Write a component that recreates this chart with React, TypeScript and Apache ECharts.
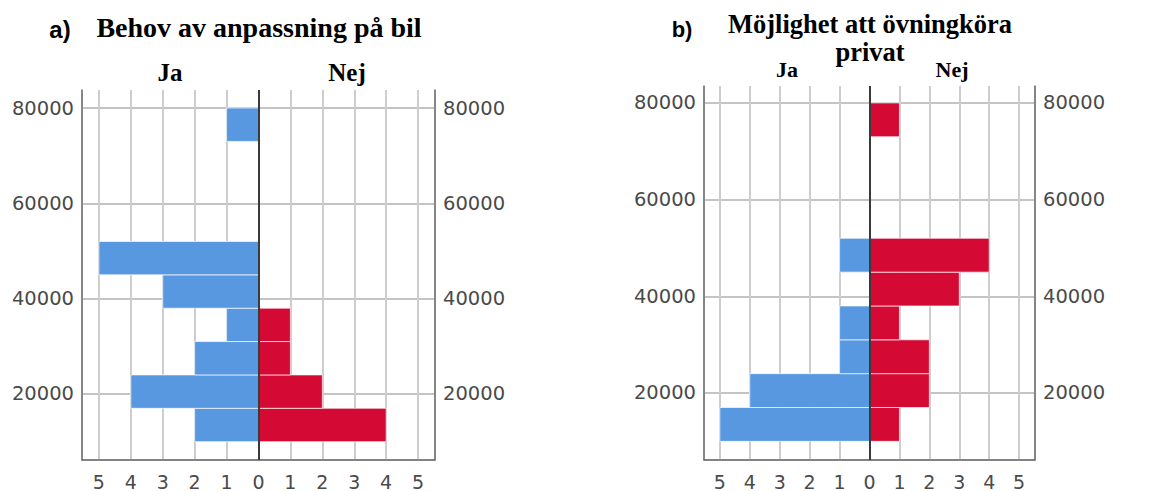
import React, { useEffect, useRef } from "react";
import * as echarts from "echarts";

// Bin edges (income) shared by both panels, bottom to top
const binEdges = [10000, 17000, 24000, 31000, 38000, 45000, 52000, 59000, 66000, 73000, 80000];

// Panel a) Behov av anpassning på bil — counts per bin, bottom to top
const aJa = [2, 4, 2, 1, 3, 5, 0, 0, 0, 1];
const aNej = [4, 2, 1, 1, 0, 0, 0, 0, 0, 0];

// Panel b) Möjlighet att övningköra privat
const bJa = [5, 4, 1, 1, 0, 1, 0, 0, 0, 0];
const bNej = [1, 2, 2, 1, 3, 4, 0, 0, 0, 1];

const titleA = "Behov av anpassning på bil";
const titleB1 = "Möjlighet att övningköra";
const titleB2 = "privat";
const groupLabels = ["Ja", "Nej"];

const BLUE = "#5898e0";
const RED = "#d40a35";

function buildData(ja: number[], nej: number[]) {
  const out: any[] = [];
  for (let i = 0; i < ja.length; i++) {
    if (ja[i] > 0) out.push({ value: [binEdges[i], binEdges[i + 1], -ja[i], 0], itemStyle: { color: BLUE } });
    if (nej[i] > 0) out.push({ value: [binEdges[i], binEdges[i + 1], 0, nej[i]], itemStyle: { color: RED } });
  }
  return out;
}

const renderItem = (params: any, api: any) => {
  const lo = api.value(0);
  const hi = api.value(1);
  const x0 = api.value(2);
  const x1 = api.value(3);
  const p0 = api.coord([x0, hi]);
  const p1 = api.coord([x1, lo]);
  return {
    type: "rect",
    shape: { x: p0[0], y: p0[1], width: p1[0] - p0[0], height: p1[1] - p0[1] },
    style: { fill: api.visual("color"), stroke: "rgba(255,255,255,0.65)", lineWidth: 1 },
  };
};

const xLabelFmt = (v: number) => (Math.abs(v - Math.round(v)) < 1e-6 ? String(Math.abs(Math.round(v))) : "");
const yLabelFmt = (v: number) => (Math.abs(v % 20000) < 1e-6 ? String(v) : "");

function makeX(gridIndex: number) {
  return {
    type: "value",
    gridIndex,
    min: -5.53,
    max: 5.53,
    minInterval: 1,
    maxInterval: 1,
    splitNumber: 11,
    axisLine: { show: true, lineStyle: { color: "#6e6e6e", width: 1.5 } },
    axisTick: { show: false },
    axisLabel: {
      formatter: xLabelFmt,
      color: "#4a4a4a",
      fontFamily: "DejaVu Sans",
      fontSize: 19,
      margin: 12,
    },
    splitLine: { show: true, lineStyle: { color: "#cdcdcd", width: 2 } },
  };
}

function makeY(gridIndex: number, min: number, max: number, position: "left" | "right") {
  return {
    type: "value",
    gridIndex,
    position,
    min,
    max,
    minInterval: 20000,
    maxInterval: 20000,
    axisLine: { show: true, onZero: false, lineStyle: { color: "#6e6e6e", width: 1.5 } },
    axisTick: { show: false },
    axisLabel: {
      formatter: yLabelFmt,
      color: "#4a4a4a",
      fontFamily: "DejaVu Sans",
      fontSize: 19.5,
      margin: 8,
    },
    splitLine: {
      show: position === "left",
      showMaxLine: false,
      lineStyle: { color: "#c4c4c4", width: 2 },
    },
  };
}

const zeroLine = {
  silent: true,
  symbol: "none",
  label: { show: false },
  lineStyle: { color: "#3a3a3a", width: 2, type: "solid" },
  data: [{ xAxis: 0 }],
};

export default function App() {
  const ref = useRef<HTMLDivElement>(null);
  useEffect(() => {
    if (!ref.current) return;
    const chart = echarts.init(ref.current, undefined, { renderer: "svg" });
    const serif = "Liberation Serif";
    const bold = (size: number, family: string) => ({ fontFamily: family, fontWeight: "bold", fontSize: size, fill: "#000" });
    const txt = (x: number, y: number, text: string, style: any) => ({
      type: "text",
      x,
      y,
      style: { ...style, text, textAlign: "center", textVerticalAlign: "middle" },
    });
    chart.setOption({
      animation: false,
      backgroundColor: "#ffffff",
      grid: [
        { left: 82, top: 90, width: 353, height: 370 },
        { left: 704, top: 86, width: 331, height: 374 },
      ],
      xAxis: [makeX(0), makeX(1)],
      yAxis: [
        makeY(0, 6150, 83780, "left"),
        makeY(0, 6150, 83780, "right"),
        makeY(1, 6140, 83500, "left"),
        makeY(1, 6140, 83500, "right"),
      ],
      series: [
        {
          type: "custom",
          xAxisIndex: 0,
          yAxisIndex: 0,
          renderItem,
          encode: { x: [2, 3], y: [0, 1] },
          data: buildData(aJa, aNej),
          markLine: zeroLine,
        },
        {
          type: "custom",
          xAxisIndex: 1,
          yAxisIndex: 2,
          renderItem,
          encode: { x: [2, 3], y: [0, 1] },
          data: buildData(bJa, bNej),
          markLine: zeroLine,
        },
      ],
      graphic: [
        txt(60, 29, "a)", bold(24, "Liberation Sans")),
        txt(259, 27, titleA, bold(28, serif)),
        txt(170, 72, groupLabels[0], bold(25, serif)),
        txt(347, 72, groupLabels[1], bold(25, serif)),
        txt(682, 29, "b)", bold(22, "Liberation Sans")),
        txt(870, 24, titleB1, bold(26.5, serif)),
        txt(870, 51.5, titleB2, bold(26.5, serif)),
        txt(787, 69, groupLabels[0], bold(22, serif)),
        txt(952, 69, groupLabels[1], bold(22, serif)),
      ],
    });
    return () => chart.dispose();
  }, []);
  return <div ref={ref} style={{ position: "fixed", left: 0, top: 0, width: 1173, height: 491 }} />;
}
